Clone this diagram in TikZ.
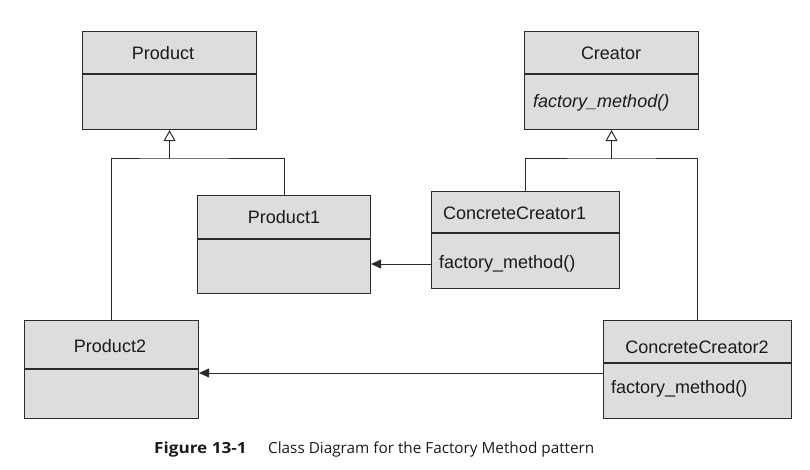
\documentclass[tikz,border=0pt]{standalone}
\usepackage{fontspec}
\setmainfont{Liberation Sans}
\newfontfamily\capfont{Open Sans}
\usetikzlibrary{arrows.meta}
\definecolor{boxfill}{HTML}{DCDDDF}
\definecolor{linec}{HTML}{2B2B2B}
\definecolor{textc}{HTML}{1A1A1A}
\tikzset{
  cls/.style={draw=linec, fill=boxfill, line width=1.1pt, anchor=north west, inner sep=0pt},
  divider/.style={draw=linec, line width=1.1pt},
  conn/.style={draw=linec, line width=1pt},
  inh/.style={conn, -{Triangle[open, length=11pt, width=12pt, line width=1pt]}},
  dep/.style={conn, -{Triangle[length=10pt, width=9pt]}},
  lbl/.style={text=textc, font=\fontsize{18}{20}\selectfont, inner sep=0pt},
  captxt/.style={text=textc, font=\capfont\fontsize{15.3}{18}\selectfont, inner sep=0pt, anchor=base west}
}
\begin{document}
\begin{tikzpicture}[x=1pt, y=-1pt]
\useasboundingbox (0,0) rectangle (810,470);
% class boxes
\node[cls, minimum width=174pt, minimum height=98pt] (product) at (82,31) {};
\node[cls, minimum width=174pt, minimum height=98pt] (creator) at (524,31) {};
\node[cls, minimum width=173pt, minimum height=98pt] (prod1) at (197,195) {};
\node[cls, minimum width=188pt, minimum height=97pt] (cc1) at (431,191) {};
\node[cls, minimum width=174pt, minimum height=98pt] (prod2) at (24,320) {};
\node[cls, minimum width=188pt, minimum height=98pt] (cc2) at (603,320) {};
% dividers
\draw[divider] ([yshift=-43pt]product.north west) -- ([yshift=-43pt]product.north east);
\draw[divider] ([yshift=-43pt]creator.north west) -- ([yshift=-43pt]creator.north east);
\draw[divider] ([yshift=-44pt]prod1.north west) -- ([yshift=-44pt]prod1.north east);
\draw[divider] ([yshift=-42pt]cc1.north west) -- ([yshift=-42pt]cc1.north east);
\draw[divider] ([yshift=-49pt]prod2.north west) -- ([yshift=-49pt]prod2.north east);
\draw[divider] ([yshift=-43pt]cc2.north west) -- ([yshift=-43pt]cc2.north east);
% labels
\node[lbl, anchor=base] (tproduct) at (163,60) {Product};
\node[lbl, anchor=base] (tcreator) at (611,60) {Creator};
\node[lbl, anchor=base west] (tcfm) at (533,108) {\itshape factory\_method()};
\node[lbl, anchor=base] (tprod1) at (284,224) {Product1};
\node[lbl, anchor=base west] (tcc1) at (443,219) {ConcreteCreator1};
\node[lbl, anchor=base west] (tcc1fm) at (439,268) {factory\_method()};
\node[lbl, anchor=base] (tprod2) at (110,352) {Product2};
\node[lbl, anchor=base] (tcc2) at (697,353) {ConcreteCreator2};
\node[lbl, anchor=base west] (tcc2fm) at (611,393) {factory\_method()};
% inheritance
\coordinate (jp) at (product.south |- 0,159);
\coordinate (jc) at (creator.south |- 0,159);
\draw[conn] (prod2.north) |- (jp) -| (prod1.north);
\draw[inh] (jp) -- (product.south);
\draw[conn] (cc1.north) |- (jc) -| (cc2.north);
\draw[inh] (jc) -- (creator.south);
% dependencies
\coordinate (d1) at (0,264);
\coordinate (d2) at (0,373);
\draw[dep] (cc1.west |- d1) -- (prod1.east |- d1);
\draw[dep] (cc2.west |- d2) -- (prod2.east |- d2);
% caption
\node[captxt, font=\capfont\bfseries\fontsize{15.3}{18}\selectfont] (figno) at (154,453) {\scalebox{1.12}[1]{Figure 13-1}};
\node[captxt] (figtxt) at (268,453) {Class Diagram for the Factory Method pattern};
\end{tikzpicture}
\end{document}
